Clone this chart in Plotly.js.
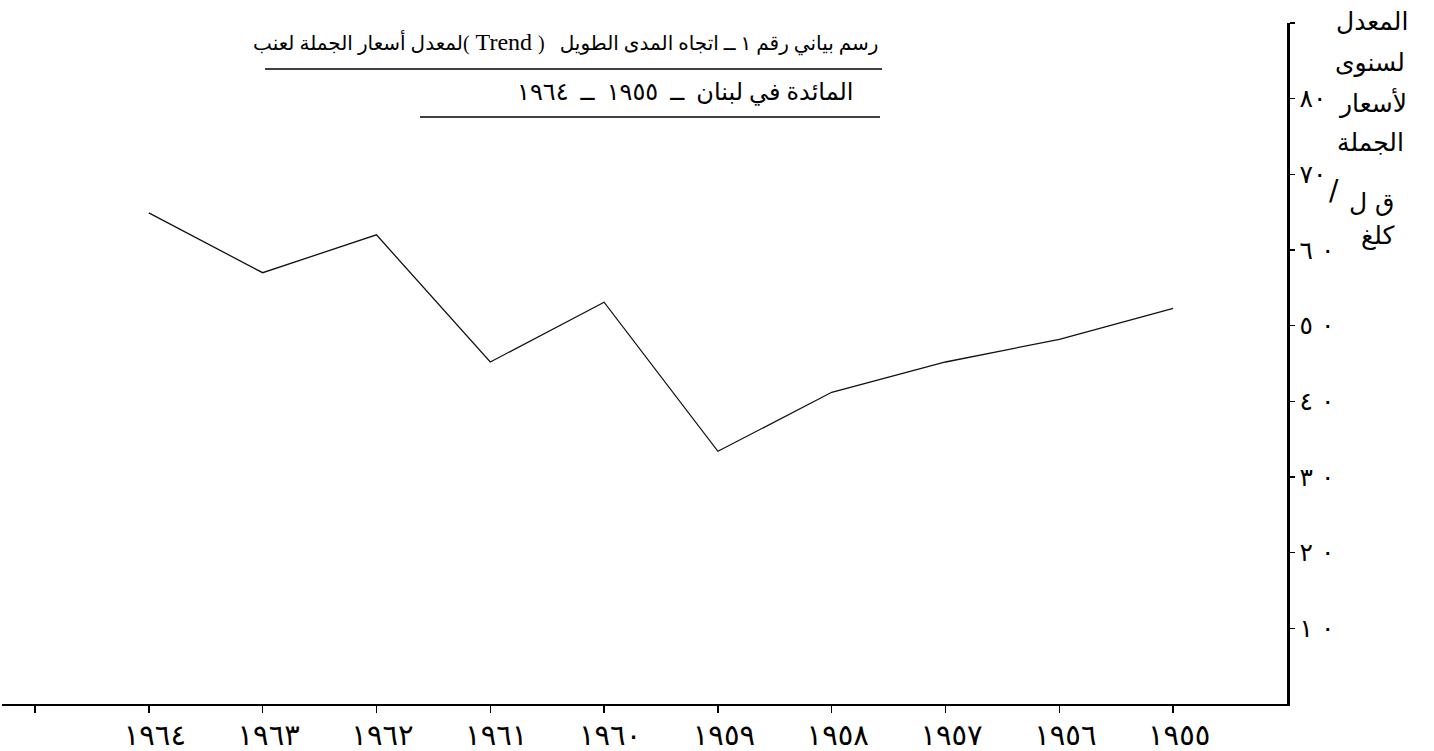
<!DOCTYPE html>
<html><head><meta charset="utf-8">
<script src="https://cdn.plot.ly/plotly-3.0.1.min.js"></script>
<style>html,body{margin:0;padding:0;background:#fff}</style>
</head><body><div id="chart" style="width:1434px;height:751px"></div>
<script>
// ---- data ----
const years = [1955, 1956, 1957, 1958, 1959, 1960, 1961, 1962, 1963, 1964];
const prices = [52.3, 48.2, 45.2, 41.2, 33.4, 53.1, 45.2, 62.0, 57.0, 64.9];
const xTickVals = [1955, 1956, 1957, 1958, 1959, 1960, 1961, 1962, 1963, 1964, 1965];
const xTickLabels = ['١٩٥٥','١٩٥٦','١٩٥٧','١٩٥٨','١٩٥٩','١٩٦٠','١٩٦١','١٩٦٢','١٩٦٣','١٩٦٤',''];
const yTickVals = [10, 20, 30, 40, 50, 60, 70, 80, 90];
const yTickLabels = ['١\u200E ٠','٢\u200E ٠','٣\u200E ٠','٤\u200E ٠','٥\u200E ٠','٦\u200E ٠','٧٠','٨٠',''];
const titleLine1a = 'رسم بياني رقم ١ ــ اتجاه المدى الطويل   (';
const titleTrend = ' Trend ';
const titleLine1b = ')لمعدل أسعار الجملة لعنب';
const titleLine2 = 'المائدة في لبنان  ــ  ١٩٥٥  ــ  ١٩٦٤';
const yTitleLines = ['المعدل', 'لسنوى', 'لأسعار', 'الجملة', 'ق ل', '/', 'كلغ'];

// ---- layout geometry ----
const W = 1434, H = 751;
const M = {l: 2, r: 147, t: 23, b: 47};
const PW = W - M.l - M.r, PH = H - M.t - M.b;
const px = v => (v - M.l) / PW;
const py = v => (H - M.b - v) / PH;
const RTL = s => '\u202B' + s + '\u202C';
const arFont = 'DejaVu Sans, Noto Sans, sans-serif';
const titleFont = 'Liberation Serif, DejaVu Sans, serif';

const ann = [];
ann.push({xref:'paper', yref:'paper', x: px(880), y: py(42), xanchor:'right', yanchor:'middle',
  text: RTL(titleLine1a + '<span style="font-size:24px">' + titleTrend + '</span>' + titleLine1b),
  showarrow:false, font:{family:titleFont, size:20, color:'#000'}});
ann.push({xref:'paper', yref:'paper', x: px(855), y: py(92), xanchor:'right', yanchor:'middle',
  text: RTL(titleLine2), showarrow:false, font:{family:titleFont, size:24, color:'#000'}});
const yTitlePos = [[1372,22],[1370,62],[1372,102],[1370,142],[1372,203],[1334,190],[1378,236]];
yTitleLines.forEach((t, i) => {
  ann.push({xref:'paper', yref:'paper', x: px(yTitlePos[i][0]), y: py(yTitlePos[i][1]),
    xanchor:'center', yanchor:'middle', text: RTL(t), showarrow:false,
    font:{family:arFont, size:i === 5 ? 28 : 25, color:'#000'}});
});

const shapes = [
  {type:'line', xref:'paper', yref:'paper', x0: px(265), x1: px(882), y0: py(69), y1: py(69), line:{color:'#000', width:1.5}},
  {type:'line', xref:'paper', yref:'paper', x0: px(420), x1: px(880), y0: py(117), y1: py(117), line:{color:'#000', width:1.5}}
];

const trace = {
  x: years, y: prices, type:'scatter', mode:'lines',
  line:{color:'#111', width:1.3}, hoverinfo:'skip'
};

const layout = {
  width: W, height: H,
  margin: M,
  paper_bgcolor:'#fff', plot_bgcolor:'#fff',
  showlegend:false,
  xaxis:{
    range:[1965.29, 1954.0], tickvals:xTickVals, ticktext:xTickLabels,
    showgrid:false, zeroline:false, showline:true, linecolor:'#000', linewidth:1.5,
    ticks:'outside', ticklen:7, tickwidth:1.5, tickcolor:'#000',
    tickfont:{family:arFont, size:29, color:'#000'}, ticklabelshift:-6, ticklabelstandoff:-2
  },
  yaxis:{
    range:[0, 90], side:'right', tickvals:yTickVals, ticktext:yTickLabels,
    showgrid:false, zeroline:false, showline:true, linecolor:'#000', linewidth:2.5,
    ticks:'outside', ticklen:5, tickwidth:1.5, tickcolor:'#000',
    tickfont:{family:arFont, size:25, color:'#000'}, ticklabelstandoff:0
  },
  annotations: ann,
  shapes: shapes
};

Plotly.newPlot('chart', [trace], layout, {staticPlot:true, displayModeBar:false});
</script>
</body></html>
